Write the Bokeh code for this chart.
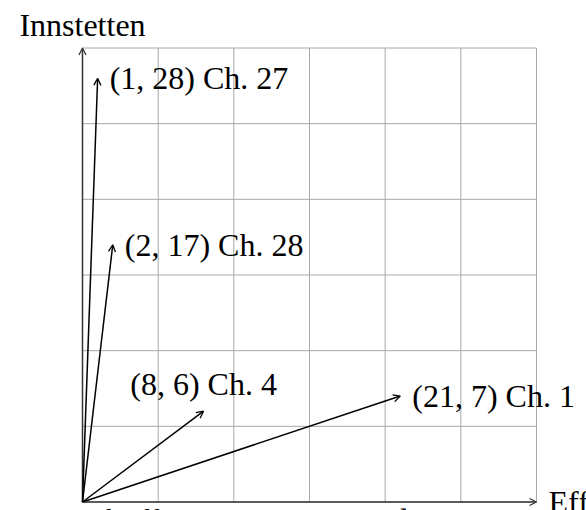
from bokeh.plotting import figure
from bokeh.models import ColumnDataSource, Range1d, Arrow, OpenHead, CDSView, IndexFilter
from bokeh.core.properties import value
from bokeh.embed import file_html
from bokeh.resources import INLINE

# ---- data ----
chapters = ["Ch. 27", "Ch. 28", "Ch. 4", "Ch. 1"]
effi = [1, 2, 8, 21]
innstetten = [28, 17, 6, 7]
grid_ticks = [0, 5, 10, 15, 20, 25, 30]
x_title = "Effi"
y_title = "Innstetten"
caption = "Chapters of Effi Briest represented as points in a two-dimensional space"

labels = [f"({e}, {i}) {c}" for e, i, c in zip(effi, innstetten, chapters)]

FONT = value("Liberation Serif")
FS = "32px"

p = figure(width=586, height=510,
           x_range=Range1d(-5.419, 33.304), y_range=Range1d(-0.562, 33.139),
           output_backend="svg", toolbar_location=None, min_border=0,
           x_axis_location=None, y_axis_location=None)
p.grid.visible = False
p.outline_line_color = None
p.background_fill_color = "white"

lo, hi = grid_ticks[0], grid_ticks[-1]
n = len(grid_ticks)
# grid
p.segment(x0=grid_ticks, y0=[lo] * n, x1=grid_ticks, y1=[hi] * n,
          line_color="#a8a8a8", line_width=1)
p.segment(x0=[lo] * n, y0=grid_ticks, x1=[hi] * n, y1=grid_ticks,
          line_color="#a8a8a8", line_width=1)

# axes with arrows
axis_src = ColumnDataSource(dict(xs=[lo, lo], ys=[lo, lo], xe=[hi, lo], ye=[lo, hi]))
p.add_layout(Arrow(source=axis_src, x_start="xs", y_start="ys", x_end="xe", y_end="ye",
                   line_color="#333333", line_width=1.5,
                   end=OpenHead(size=7, line_color="#333333", line_width=1.3)))

# vectors
src = ColumnDataSource(dict(x0=[0] * len(effi), y0=[0] * len(effi), x=effi, y=innstetten, label=labels))
p.add_layout(Arrow(source=src, x_start="x0", y_start="y0", x_end="x", y_end="y",
                   line_color="black", line_width=1.5,
                   end=OpenHead(size=7, line_color="black", line_width=1.3)))

right_view = CDSView(filter=IndexFilter([0, 1, 3]))
above_view = CDSView(filter=IndexFilter([2]))
p.text(x="x", y="y", text="label", source=src, view=right_view,
       text_font=FONT, text_font_size=FS, text_color="black",
       text_align="left", text_baseline="middle", x_offset=12)
p.text(x="x", y="y", text="label", source=src, view=above_view,
       text_font=FONT, text_font_size=FS, text_color="black",
       text_align="center", text_baseline="bottom", y_offset=-9)

# axis titles
p.text(x=[hi], y=[lo], text=[x_title], text_font=FONT, text_font_size=FS,
       text_align="left", text_baseline="middle", x_offset=12)
p.text(x=[lo], y=[hi], text=[y_title], text_font=FONT, text_font_size=FS,
       text_align="center", text_baseline="bottom", y_offset=-5)

# caption below the picture (only its top shows in the reference)
p.text(x=[lo], y=[lo], text=[caption], text_font=FONT, text_font_size=FS,
       text_align="left", text_baseline="top", x_offset=-120, y_offset=0)

open("out.html", "w").write(file_html(p, INLINE))
